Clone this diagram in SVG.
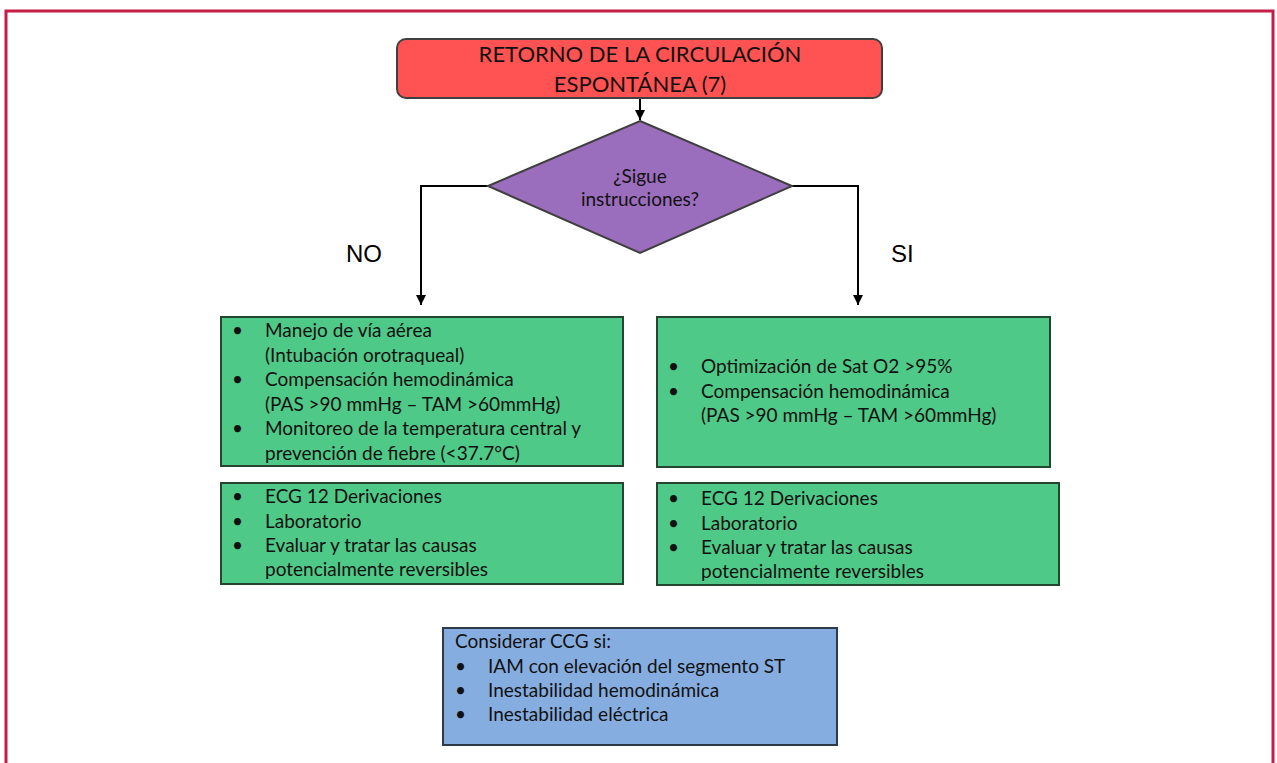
<svg xmlns="http://www.w3.org/2000/svg" width="1277" height="763" viewBox="0 0 1277 763">
  <style>
    .t { font-family: Lato, "Open Sans", "Liberation Sans", sans-serif; fill: #111; }
    .body { font-size: 19px; }
    .title { font-size: 22px; text-anchor: middle; }
    .q { font-size: 19px; text-anchor: middle; }
    .lbl { font-family: "Liberation Sans", Arial, sans-serif; font-size: 24px; fill: #000; }
    .green { fill: #4FC987; stroke: #24452F; stroke-width: 2; }
    .wire { fill: none; stroke: #000; stroke-width: 2; }
  </style>
  <defs>
    <marker id="arrow" viewBox="0 0 10 10" refX="10" refY="5" markerWidth="5" markerHeight="5" orient="auto" markerUnits="strokeWidth">
      <path d="M0,0 L10,5 L0,10 z" fill="#000"/>
    </marker>
  </defs>

  <rect width="1277" height="763" fill="#fff"/>
  <!-- outer frame -->
  <rect x="6" y="11" width="1267" height="800" fill="none" stroke="#C41E48" stroke-width="3"/>

  <g id="connectors">
    <line class="wire" x1="640" y1="98" x2="640" y2="120" marker-end="url(#arrow)"/>
    <polyline class="wire" points="488,186 421,186 421,305" marker-end="url(#arrow)"/>
    <polyline class="wire" points="792,186 858,186 858,305" marker-end="url(#arrow)"/>
  </g>

  <g id="start">
    <rect x="397" y="39" width="485" height="59" rx="9" fill="#FF5252" stroke="#3F3F3F" stroke-width="2"/>
    <text class="t title" x="640" y="62">RETORNO DE LA CIRCULACIÓN</text>
    <text class="t title" x="640" y="92">ESPONTÁNEA (7)</text>
  </g>

  <g id="decision">
    <polygon points="640,121 792,186 640,253 488,186" fill="#9B6DBD" stroke="#3F3F3F" stroke-width="2"/>
    <text class="t q" x="640" y="183">¿Sigue</text>
    <text class="t q" x="640" y="206">instrucciones?</text>
  </g>

  <g id="label-no"><text class="lbl" x="346" y="262">NO</text></g>
  <g id="label-si"><text class="lbl" x="891" y="262">SI</text></g>

  <g id="no-actions">
    <rect class="green" x="221" y="317" width="402" height="149"/>
    <text class="t body">
      <tspan x="232" y="337">•</tspan><tspan x="265" y="337">Manejo de vía aérea</tspan>
      <tspan x="265" y="361.5">(Intubación orotraqueal)</tspan>
      <tspan x="232" y="386">•</tspan><tspan x="265" y="386">Compensación hemodinámica</tspan>
      <tspan x="265" y="410.5">(PAS &gt;90 mmHg – TAM &gt;60mmHg)</tspan>
      <tspan x="232" y="435">•</tspan><tspan x="265" y="435">Monitoreo de la temperatura central y</tspan>
      <tspan x="265" y="459.5">prevención de fiebre (&lt;37.7°C)</tspan>
    </text>
  </g>

  <g id="no-studies">
    <rect class="green" x="221" y="483" width="402" height="101"/>
    <text class="t body">
      <tspan x="232" y="503">•</tspan><tspan x="265" y="503">ECG 12 Derivaciones</tspan>
      <tspan x="232" y="527.5">•</tspan><tspan x="265" y="527.5">Laboratorio</tspan>
      <tspan x="232" y="552">•</tspan><tspan x="265" y="552">Evaluar y tratar las causas</tspan>
      <tspan x="265" y="576">potencialmente reversibles</tspan>
    </text>
  </g>

  <g id="si-actions">
    <rect class="green" x="657" y="317" width="393" height="150"/>
    <text class="t body">
      <tspan x="668" y="373">•</tspan><tspan x="701" y="373">Optimización de Sat O2 &gt;95%</tspan>
      <tspan x="668" y="397.5">•</tspan><tspan x="701" y="397.5">Compensación hemodinámica</tspan>
      <tspan x="701" y="422">(PAS &gt;90 mmHg – TAM &gt;60mmHg)</tspan>
    </text>
  </g>

  <g id="si-studies">
    <rect class="green" x="657" y="483" width="402" height="102"/>
    <text class="t body">
      <tspan x="668" y="505">•</tspan><tspan x="701" y="505">ECG 12 Derivaciones</tspan>
      <tspan x="668" y="529.5">•</tspan><tspan x="701" y="529.5">Laboratorio</tspan>
      <tspan x="668" y="554">•</tspan><tspan x="701" y="554">Evaluar y tratar las causas</tspan>
      <tspan x="701" y="578">potencialmente reversibles</tspan>
    </text>
  </g>

  <g id="ccg">
    <rect x="443" y="628" width="394" height="117" fill="#86ADE0" stroke="#2F3A48" stroke-width="2"/>
    <text class="t body">
      <tspan x="455" y="648">Considerar CCG si:</tspan>
      <tspan x="455" y="672.5">•</tspan><tspan x="488" y="672.5">IAM con elevación del segmento ST</tspan>
      <tspan x="455" y="697">•</tspan><tspan x="488" y="697">Inestabilidad hemodinámica</tspan>
      <tspan x="455" y="721">•</tspan><tspan x="488" y="721">Inestabilidad eléctrica</tspan>
    </text>
  </g>
</svg>
